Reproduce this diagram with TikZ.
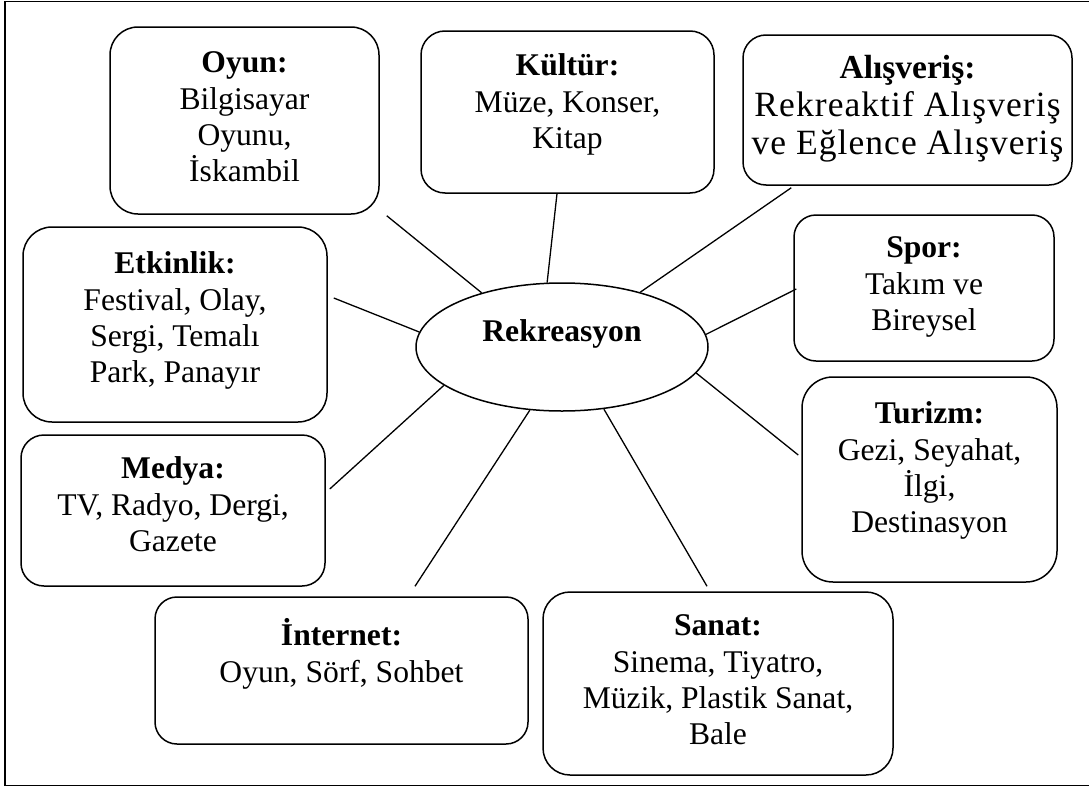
\documentclass[tikz,border=0pt]{standalone}
\usepackage{fontspec}
\setmainfont{Liberation Serif}
\usetikzlibrary{shapes.geometric,calc}
\begin{document}
\begin{tikzpicture}[x=1pt,y=-1pt,
  box/.style={draw, line width=1.5pt, inner sep=0pt},
  txt/.style={anchor=north, align=center, inner sep=0pt, font=\fontsize{31.6}{36.3}\selectfont, execute at begin node=\strut},
  link/.style={line width=1.3pt},
]
\useasboundingbox (0,0) rectangle (1089,787);
\begin{scope}
\clip (0,0) rectangle (1089,787);
\draw[line width=1.6pt] (5,1.5) rectangle (1095,785.5);
\end{scope}
% boxes
\node[box, rounded corners=28pt, minimum width=269pt, minimum height=187pt] (oyun) at (244.5,120.5) {};
\node[box, rounded corners=24pt, minimum width=293pt, minimum height=162pt] (kultur) at (567.5,112) {};
\node[box, rounded corners=23pt, minimum width=329pt, minimum height=150pt] (alis) at (907.5,110) {};
\node[box, rounded corners=29pt, minimum width=304pt, minimum height=195pt] (etk) at (175,324.5) {};
\node[box, rounded corners=22pt, minimum width=260pt, minimum height=146pt] (spor) at (924,288) {};
\node[box, rounded corners=23pt, minimum width=304pt, minimum height=151pt] (medya) at (173,510.5) {};
\node[box, rounded corners=31pt, minimum width=255pt, minimum height=205pt] (tur) at (929.5,479.5) {};
\node[box, rounded corners=22pt, minimum width=373pt, minimum height=147pt] (int) at (341.5,670.5) {};
\node[box, rounded corners=27pt, minimum width=350pt, minimum height=183pt] (sanat) at (718,683.5) {};
\node[box, ellipse, minimum width=292pt, minimum height=128pt] (rek) at (562,347) {};
% texts
\node[txt] (oyun-t) at (244.5,51.6) {\textbf{Oyun:}\\Bilgisayar\\Oyunu,\\İskambil};
\node[txt] (kultur-t) at (567.5,53.6) {\textbf{Kültür:}\\Müze, Konser,\\Kitap};
\node[txt, font=\fontsize{33.5}{38}\selectfont] (alis-t) at (907.5,55.4) {\textbf{Alışveriş:}\\{\fontsize{35.5}{38}\selectfont\addfontfeatures{LetterSpace=3}Rekreaktif Alışveriş}\\{\fontsize{35.5}{38}\selectfont\addfontfeatures{LetterSpace=3}ve Eğlence Alışveriş}};
\node[txt] (etk-t) at (175,251.6) {\textbf{Etkinlik:}\\Festival, Olay,\\Sergi, Temalı\\Park, Panayır};
\node[txt] (spor-t) at (924,236.6) {\textbf{Spor:}\\Takım ve\\Bireysel};
\node[txt] (medya-t) at (173,456.6) {\textbf{Medya:}\\TV, Radyo, Dergi,\\Gazete};
\node[txt] (tur-t) at (929.5,401.6) {\textbf{Turizm:}\\Gezi, Seyahat,\\İlgi,\\Destinasyon};
\node[txt] (int-t) at (341.5,618.6) {\textbf{İnternet:}\\Oyun, Sörf, Sohbet};
\node[txt] (sanat-t) at (718,614.6) {\textbf{Sanat:}\\Sinema, Tiyatro,\\Müzik, Plastik Sanat,\\Bale};
\node[txt, anchor=base] (rek-t) at (562,341.7) {\textbf{Rekreasyon}};
% connectors
\draw[link] ($(oyun.south east)+(7,1)$) -- (rek.146);
\draw[link] ($(kultur.south)+(-10.5,0)$) -- (rek.103);
\draw[link] ($(alis.south west)+(49,2)$) -- (rek.35.5);
\draw[link] ($(etk.east)+(6,-26.5)$) -- (rek.174.4);
\draw[link] ($(spor.west)+(3,1)$) -- (rek.5.6);
\draw[link] ($(tur.west)+(-3,-24.5)$) -- (rek.-11.7);
\draw[link] ($(medya.east)+(4,-21.5)$) -- (rek.198.9);
\draw[link] ($(int.north)+(73.5,-10)$) -- (rek.-117.3);
\draw[link] ($(sanat.north)+(-11,-5)$) -- (rek.-56.3);
\end{tikzpicture}
\end{document}
